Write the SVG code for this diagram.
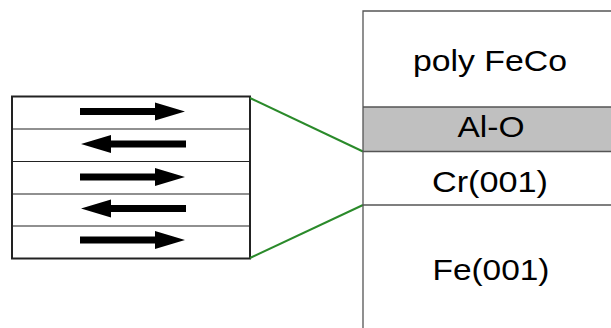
<svg xmlns="http://www.w3.org/2000/svg" width="611" height="328" viewBox="0 0 611 328">
  <style>
    .lbl { font-family: "Liberation Sans", Arial, sans-serif; font-size: 29px; fill: #000; text-anchor: middle; }
    .layer { stroke: #555; stroke-width: 1.3; fill: none; }
    .row { stroke: #222; stroke-width: 1.2; }
    .link { stroke: #2a8a2a; stroke-width: 2; fill: none; }
  </style>
  <defs>
    <!-- arrow pointing right, centred on its own origin -->
    <path id="arrowR" d="M-52.5,-3.5 H22.5 V-9 L52.5,0 L22.5,9 V3.5 H-52.5 Z" fill="#000"/>
  </defs>

  <!-- Multilayer close-up -->
  <g id="multilayer">
    <rect x="12" y="96.5" width="238" height="162" fill="#fff" stroke="#222" stroke-width="2"/>
    <line class="row" x1="12" y1="129" x2="250" y2="129"/>
    <line class="row" x1="12" y1="161.5" x2="250" y2="161.5"/>
    <line class="row" x1="12" y1="194" x2="250" y2="194"/>
    <line class="row" x1="12" y1="226" x2="250" y2="226"/>
    <use href="#arrowR" transform="translate(132.5,111.5)"/>
    <use href="#arrowR" transform="translate(133.5,144) scale(-1,1)"/>
    <use href="#arrowR" transform="translate(132.5,177)"/>
    <use href="#arrowR" transform="translate(133.5,208.5) scale(-1,1)"/>
    <use href="#arrowR" transform="translate(132.5,240)"/>
  </g>

  <!-- Connectors -->
  <g id="connectors">
    <line class="link" x1="250" y1="98" x2="363" y2="151.5"/>
    <line class="link" x1="250" y1="258" x2="363" y2="205"/>
  </g>

  <!-- Layer stack -->
  <g id="stack">
    <rect x="363" y="107" width="250" height="44.5" fill="#c0c0c0"/>
    <path class="layer" d="M611,11 H363 V330"/>
    <line class="layer" x1="363" y1="107" x2="611" y2="107"/>
    <line class="layer" x1="363" y1="151.5" x2="611" y2="151.5"/>
    <line class="layer" x1="363" y1="205" x2="611" y2="205"/>
  </g>

  <g id="poly-feco"><text class="lbl" x="490" y="70.5" textLength="154" lengthAdjust="spacingAndGlyphs">poly FeCo</text></g>
  <g id="al-o"><text class="lbl" x="491" y="137" textLength="67" lengthAdjust="spacingAndGlyphs">Al-O</text></g>
  <g id="cr001"><text class="lbl" x="490" y="192" textLength="116" lengthAdjust="spacingAndGlyphs">Cr(001)</text></g>
  <g id="fe001"><text class="lbl" x="491" y="280" textLength="117" lengthAdjust="spacingAndGlyphs">Fe(001)</text></g>
</svg>
